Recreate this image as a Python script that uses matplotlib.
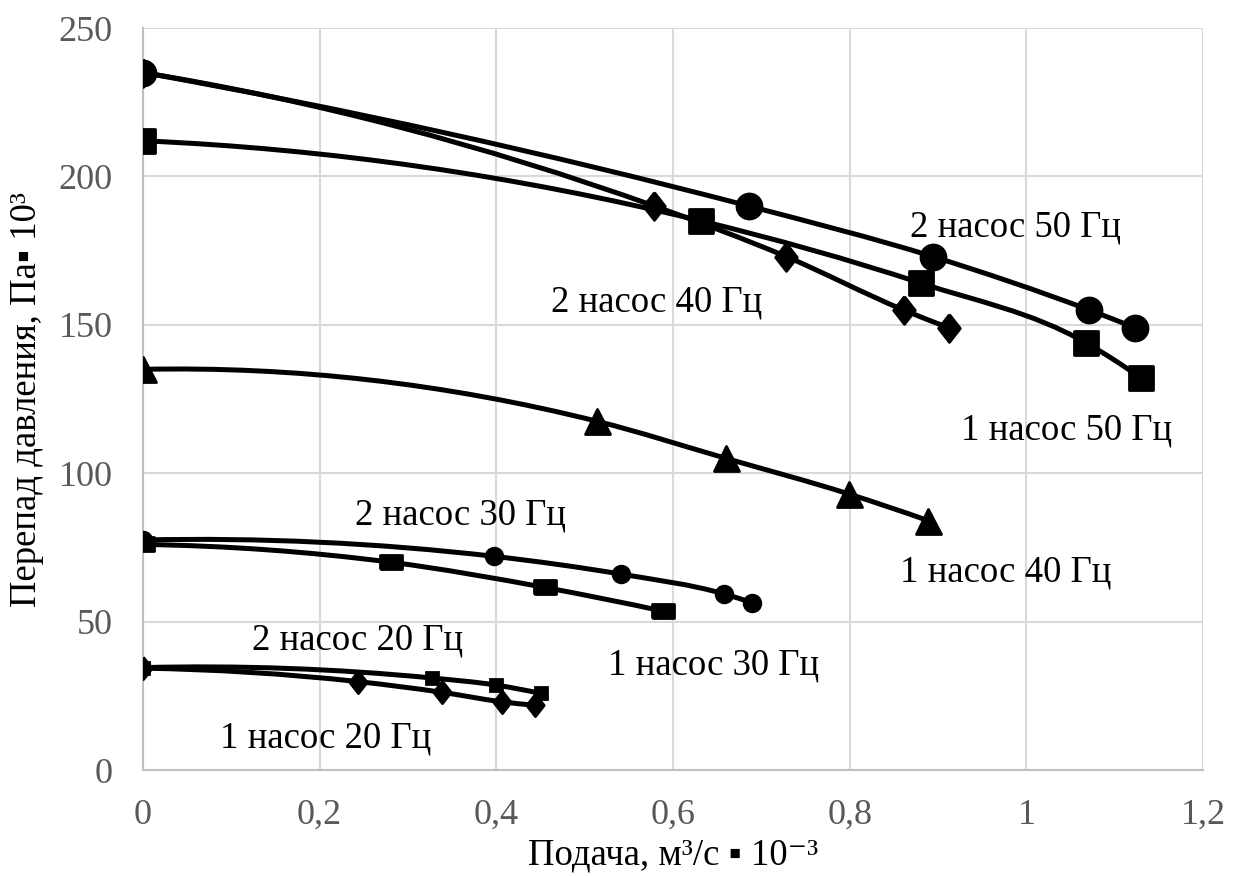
"""Pump head curves: pressure drop vs flow for 1 and 2 pumps at 20-50 Hz."""

import matplotlib

matplotlib.use("Agg")
import matplotlib.pyplot as plt
from matplotlib.markers import MarkerStyle
from matplotlib.patches import PathPatch
from matplotlib.path import Path

# --- data (flow, m3/s*1e-3 ; pressure drop, Pa*1e3) ---
q_2p50 = [0, 0.686, 0.894, 1.071, 1.123]
p_2p50 = [235, 190, 173, 155, 149]

q_1p50 = [0, 0.632, 0.881, 1.067, 1.130]
p_1p50 = [212, 185, 164, 144, 132]

q_2p40 = [0, 0.579, 0.728, 0.861, 0.912]
p_2p40 = [235, 190, 173, 155, 149]

q_1p40 = [0, 0.514, 0.660, 0.799, 0.889]
p_1p40 = [135, 117.5, 105, 93, 84]

q_2p30 = [0, 0.397, 0.541, 0.658, 0.689]
p_2p30 = [77.5, 72, 66, 59.3, 56.4]

q_1p30 = [0, 0.281, 0.455, 0.589]
p_1p30 = [76, 70, 61.5, 53.5]

q_2p20 = [0, 0.327, 0.400, 0.450]
p_2p20 = [34.5, 31, 28.6, 25.8]

q_1p20 = [0, 0.243, 0.338, 0.406, 0.444]
p_1p20 = [34.3, 29.8, 26.2, 23, 21.8]

labels = ["2 насос 50 Гц", "1 насос 50 Гц", "2 насос 40 Гц", "1 насос 40 Гц",
          "2 насос 30 Гц", "1 насос 30 Гц", "2 насос 20 Гц", "1 насос 20 Гц"]
label_pos = [(0.988, 183.0), (1.046, 114.6), (0.581, 157.7), (0.976, 66.7),
             (0.359, 85.9), (0.646, 35.4), (0.243, 43.8), (0.207, 10.8)]

x_ticks = [0, 0.2, 0.4, 0.6, 0.8, 1.0, 1.2]
x_ticklabels = ["0", "0,2", "0,4", "0,6", "0,8", "1", "1,2"]
y_ticks = [0, 50, 100, 150, 200, 250]

FONT = ["Liberation Serif", "DejaVu Sans"]
plt.rcParams["font.family"] = FONT


def smooth_path(xs, ys):
    # smoothed line like the spreadsheet: cubic Bezier with parabolic (Bessel) slopes
    n = len(xs)
    h = [xs[i + 1] - xs[i] for i in range(n - 1)]
    m = [(ys[i + 1] - ys[i]) / h[i] for i in range(n - 1)]
    s = [0.0] * n
    for i in range(1, n - 1):
        s[i] = (h[i] * m[i - 1] + h[i - 1] * m[i]) / (h[i - 1] + h[i])
    if n > 2:
        s[0] = 2 * m[0] - s[1]
        s[-1] = 2 * m[-1] - s[-2]
    else:
        s[0] = s[-1] = m[0]
    verts = [(xs[0], ys[0])]
    codes = [Path.MOVETO]
    for i in range(n - 1):
        d = h[i] / 3
        verts += [(xs[i] + d, ys[i] + s[i] * d),
                  (xs[i + 1] - d, ys[i + 1] - s[i + 1] * d),
                  (xs[i + 1], ys[i + 1])]
        codes += [Path.CURVE4] * 3
    return Path(verts, codes)


diamond = Path([(0, 1), (0.78, 0), (0, -1), (-0.78, 0), (0, 1)])
wide_rect = Path([(-1, -0.62), (1, -0.62), (1, 0.62), (-1, 0.62), (-1, -0.62)])

series = [
    (q_2p50, p_2p50, MarkerStyle("o"), 18),
    (q_1p50, p_1p50, MarkerStyle("s", joinstyle="round"), 17),
    (q_2p40, p_2p40, MarkerStyle(diamond, joinstyle="round"), 20),
    (q_1p40, p_1p40, MarkerStyle("^", joinstyle="round"), 18),
    (q_2p30, p_2p30, MarkerStyle("o"), 12),
    (q_1p30, p_1p30, MarkerStyle(wide_rect, joinstyle="round"), 16),
    (q_2p20, p_2p20, MarkerStyle("s"), 9),
    (q_1p20, p_1p20, MarkerStyle(diamond, joinstyle="round"), 16),
]

fig = plt.figure(figsize=(12.37, 8.76), dpi=100)
ax = fig.add_axes([0.1156, 0.121, 0.857, 0.847])

for xs, ys, mk, ms in series:
    ax.add_patch(PathPatch(smooth_path(xs, ys), facecolor="none", edgecolor="black",
                           lw=3.6, capstyle="round", zorder=3))
    ax.plot(xs, ys, linestyle="none", marker=mk, ms=ms, color="black",
            mec="black", mew=2, zorder=4)

for text, (tx, ty) in zip(labels, label_pos):
    ax.text(tx, ty, text, ha="center", va="center", fontsize=26.5, color="black")

ax.set_xlim(0, 1.2)
ax.set_ylim(0, 250)
ax.set_xticks(x_ticks)
ax.set_xticklabels(x_ticklabels)
ax.set_yticks(y_ticks)
ax.tick_params(length=0, labelsize=26, labelcolor="#595959")
ax.tick_params(axis="y", pad=22)
ax.tick_params(axis="x", pad=21)
ax.grid(True, color="#D9D9D9", lw=1.5)
ax.set_axisbelow(True)
for side in ("top", "right"):
    ax.spines[side].set_visible(False)
for side in ("left", "bottom"):
    ax.spines[side].set_color("#BFBFBF")
    ax.spines[side].set_linewidth(1.5)

ax.set_xlabel("Подача, м³/с ▪ 10⁻³", fontsize=26.5, labelpad=4)
ax.set_ylabel("Перепад давления, Па▪ 10³", fontsize=26.5, labelpad=10)

fig.savefig("out.png", dpi=100)
